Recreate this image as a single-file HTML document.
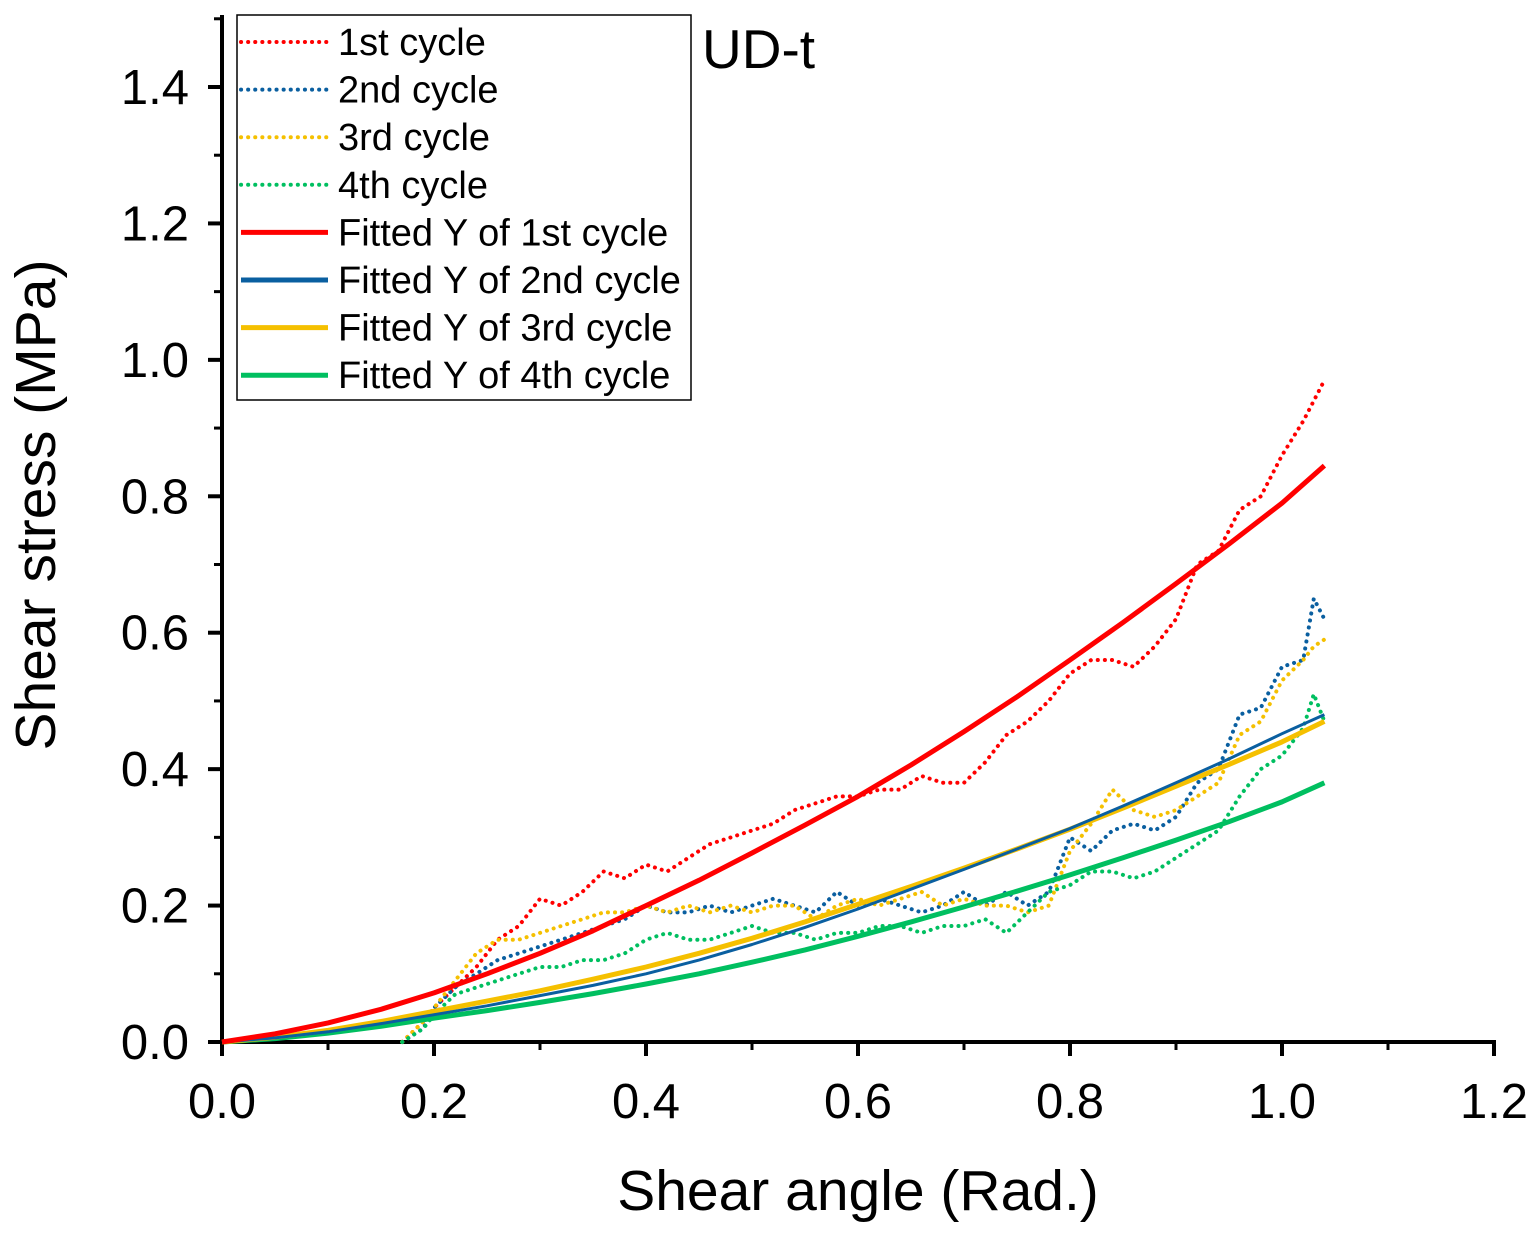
<!DOCTYPE html>
<html><head><meta charset="utf-8"><style>
body{margin:0;background:#fff}
svg text{font-family:"Liberation Sans",Arial,sans-serif}
</style></head><body>
<svg id="chart" width="1532" height="1228" viewBox="0 0 1532 1228" xmlns="http://www.w3.org/2000/svg">
<g id="axes"></g>
<g id="series"></g>
<g id="legend"></g>
<text x="702" y="68" font-size="55">UD-t</text>
<text x="858" y="1210" font-size="57" text-anchor="middle">Shear angle (Rad.)</text>
<text transform="translate(55,505) rotate(-90)" font-size="57" text-anchor="middle">Shear stress (MPa)</text>
</svg>
<script>
const xTicks=[0,0.2,0.4,0.6,0.8,1.0,1.2];
const xTickLabels=["0.0","0.2","0.4","0.6","0.8","1.0","1.2"];
const yTicks=[0,0.2,0.4,0.6,0.8,1.0,1.2,1.4];
const yTickLabels=["0.0","0.2","0.4","0.6","0.8","1.0","1.2","1.4"];
const rawX=[0.17,0.19,0.2,0.22,0.24,0.26,0.28,0.30,0.32,0.34,0.36,0.38,0.40,0.42,0.44,0.46,0.48,0.50,0.52,0.54,0.56,0.58,0.60,0.62,0.64,0.66,0.68,0.70,0.72,0.74,0.76,0.78,0.80,0.82,0.84,0.86,0.88,0.90,0.92,0.94,0.96,0.98,1.00,1.02,1.03,1.04];
const cycle1=[0,0.03,0.05,0.08,0.11,0.15,0.17,0.21,0.2,0.22,0.25,0.24,0.26,0.25,0.27,0.29,0.30,0.31,0.32,0.34,0.35,0.36,0.36,0.37,0.37,0.39,0.38,0.38,0.41,0.45,0.47,0.50,0.54,0.56,0.56,0.55,0.58,0.62,0.70,0.72,0.78,0.80,0.86,0.91,0.94,0.97];
const cycle2=[0,0.02,0.05,0.08,0.10,0.12,0.13,0.14,0.15,0.16,0.17,0.18,0.20,0.19,0.19,0.20,0.19,0.20,0.21,0.20,0.19,0.22,0.20,0.21,0.20,0.19,0.20,0.22,0.20,0.22,0.20,0.22,0.30,0.28,0.31,0.32,0.31,0.33,0.38,0.40,0.48,0.49,0.55,0.56,0.65,0.62];
const cycle3=[0,0.03,0.05,0.09,0.13,0.15,0.15,0.16,0.17,0.18,0.19,0.19,0.20,0.19,0.20,0.19,0.20,0.19,0.20,0.20,0.18,0.20,0.21,0.20,0.21,0.22,0.20,0.21,0.20,0.20,0.19,0.20,0.28,0.32,0.37,0.34,0.33,0.34,0.36,0.38,0.45,0.47,0.53,0.56,0.58,0.59];
const cycle4=[0,0.02,0.04,0.07,0.08,0.09,0.10,0.11,0.11,0.12,0.12,0.13,0.15,0.16,0.15,0.15,0.16,0.17,0.16,0.16,0.15,0.16,0.16,0.17,0.17,0.16,0.17,0.17,0.18,0.16,0.19,0.22,0.23,0.25,0.25,0.24,0.25,0.27,0.29,0.31,0.36,0.40,0.42,0.46,0.51,0.47];
const fitX=[0,0.05,0.1,0.15,0.2,0.25,0.3,0.35,0.4,0.45,0.5,0.55,0.6,0.65,0.7,0.75,0.8,0.85,0.9,0.95,1.0,1.04];
const fit1=[0,0.012,0.028,0.048,0.072,0.1,0.13,0.163,0.2,0.237,0.277,0.318,0.36,0.406,0.455,0.506,0.56,0.615,0.672,0.73,0.79,0.845];
const fit2=[0,0.006,0.015,0.027,0.04,0.053,0.068,0.083,0.1,0.12,0.143,0.168,0.195,0.224,0.253,0.283,0.313,0.346,0.38,0.415,0.452,0.48];
const fit3=[0,0.007,0.017,0.03,0.045,0.06,0.075,0.092,0.11,0.13,0.152,0.176,0.202,0.228,0.255,0.283,0.312,0.343,0.375,0.407,0.44,0.47];
const fit4=[0,0.005,0.013,0.023,0.035,0.046,0.058,0.071,0.085,0.1,0.117,0.135,0.155,0.176,0.198,0.221,0.245,0.27,0.296,0.323,0.352,0.38];
const colors=["#f00","#0a5fa0","#f5c000","#00bf60"];
const legendLabels=["1st cycle","2nd cycle","3rd cycle","4th cycle","Fitted Y of 1st cycle","Fitted Y of 2nd cycle","Fitted Y of 3rd cycle","Fitted Y of 4th cycle"];
const NS="http://www.w3.org/2000/svg";
const X0=222,XS=(1494-222)/1.2,Y0=1042,YS=(1042-87)/1.4;
const sx=v=>X0+v*XS, sy=v=>Y0-v*YS;
function mk(tag,attrs,parent){const e=document.createElementNS(NS,tag);for(const k in attrs)e.setAttribute(k,attrs[k]);parent.appendChild(e);return e;}
const axes=document.getElementById('axes'),ser=document.getElementById('series'),leg=document.getElementById('legend');
let a=mk('line',{x1:X0,y1:Y0,x2:1496,y2:Y0,stroke:'#000','stroke-width':4},axes);


a=mk('line',{x1:X0,y1:15,x2:X0,y2:Y0+2,stroke:'#000','stroke-width':4},axes);


for(let i=0;i<xTicks.length;i++){
 let t=mk('line',{x1:sx(xTicks[i]),y1:Y0,x2:sx(xTicks[i]),y2:Y0+14,stroke:'#000','stroke-width':4},axes);
 
 
 let l=mk('text',{x:sx(xTicks[i]),y:1118,'font-size':49,'text-anchor':'middle'},axes);l.textContent=xTickLabels[i];
 
 
 if(i<xTicks.length-1){let m=mk('line',{x1:sx(xTicks[i]+0.1),y1:Y0,x2:sx(xTicks[i]+0.1),y2:Y0+8,stroke:'#000','stroke-width':3},axes);
 
 }
}
for(let i=0;i<yTicks.length;i++){
 let t=mk('line',{x1:X0-14,y1:sy(yTicks[i]),x2:X0,y2:sy(yTicks[i]),stroke:'#000','stroke-width':4},axes);
 
 
 let l=mk('text',{x:189,y:sy(yTicks[i])+17,'font-size':49,'text-anchor':'end'},axes);l.textContent=yTickLabels[i];
 
 
 let m=mk('line',{x1:X0-8,y1:sy(yTicks[i]+0.1),x2:X0,y2:sy(yTicks[i]+0.1),stroke:'#000','stroke-width':3},axes);
 
 
}
const raws=[cycle1,cycle2,cycle3,cycle4],fits=[fit1,fit2,fit3,fit4];
const pts=(xs,ys)=>xs.map((x,i)=>sx(x).toFixed(1)+','+sy(ys[i]).toFixed(1)).join(' ');
for(let k=0;k<4;k++){
 let p=mk('polyline',{points:pts(rawX,raws[k]),fill:'none',stroke:colors[k],'stroke-width':4,'stroke-dasharray':'0.1 7','stroke-linecap':'round'},ser);
 
 
}
for(let k=3;k>=0;k--){
 let p=mk('polyline',{points:pts(fitX,fits[k]),fill:'none',stroke:colors[k],'stroke-width':k==1?3:5,'stroke-linejoin':'round'},ser);
 
 
}
let box=mk('rect',{x:237,y:15,width:454,height:385,fill:'#fff',stroke:'#000','stroke-width':1.5},leg);


for(let i=0;i<8;i++){
 const y=42+i*47.6,c=colors[i%4];
 let s=mk('line',{x1:241,y1:y,x2:328,y2:y,stroke:c,'stroke-width':i<4?4:5},leg);
 if(i<4){s.setAttribute('stroke-dasharray','0.1 7');s.setAttribute('stroke-linecap','round');}
 
 
 let t=mk('text',{x:338,y:y+13,'font-size':38},leg);t.textContent=legendLabels[i];
 
 
}
</script>
</body></html>
